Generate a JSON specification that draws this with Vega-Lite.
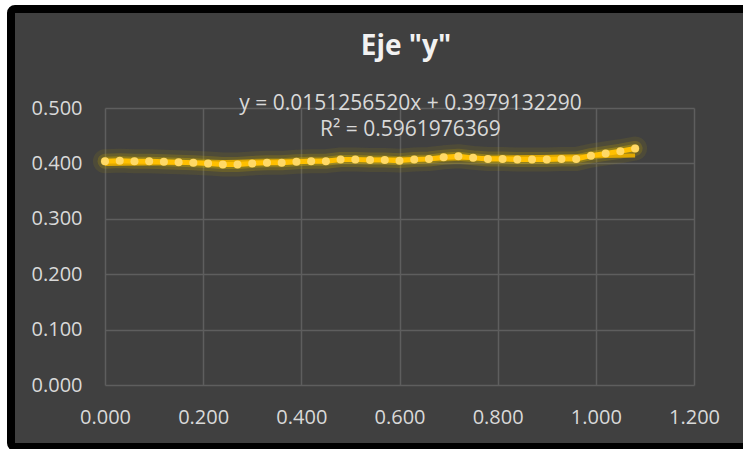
{
  "$schema": "https://vega.github.io/schema/vega-lite/v6.json",
  "autosize": {"type": "none"},
  "padding": {"left": 11, "top": 9, "right": -4, "bottom": 2},
  "width": 736,
  "height": 438,
  "background": "#ffffff",
  "config": {
    "view": {"fill": "#404040", "stroke": "#000000", "strokeWidth": 8, "cornerRadius": 4},
    "font": "Open Sans"
  },
  "title": {
    "text": "Eje \"y\"",
    "font": "Open Sans",
    "fontSize": 28,
    "fontWeight": "bold",
    "color": "#f2f2f2",
    "anchor": "middle",
    "frame": "group",
    "baseline": "top",
    "offset": -52,
    "dx": 27
  },
  "data": {
    "values": [
      {"x": 0.00, "y": 0.404},
      {"x": 0.03, "y": 0.405},
      {"x": 0.06, "y": 0.404},
      {"x": 0.09, "y": 0.404},
      {"x": 0.12, "y": 0.403},
      {"x": 0.15, "y": 0.402},
      {"x": 0.18, "y": 0.401},
      {"x": 0.21, "y": 0.400},
      {"x": 0.24, "y": 0.398},
      {"x": 0.27, "y": 0.398},
      {"x": 0.30, "y": 0.400},
      {"x": 0.33, "y": 0.401},
      {"x": 0.36, "y": 0.401},
      {"x": 0.39, "y": 0.403},
      {"x": 0.42, "y": 0.404},
      {"x": 0.45, "y": 0.404},
      {"x": 0.48, "y": 0.407},
      {"x": 0.51, "y": 0.407},
      {"x": 0.54, "y": 0.406},
      {"x": 0.57, "y": 0.406},
      {"x": 0.60, "y": 0.405},
      {"x": 0.63, "y": 0.407},
      {"x": 0.66, "y": 0.408},
      {"x": 0.69, "y": 0.411},
      {"x": 0.72, "y": 0.413},
      {"x": 0.75, "y": 0.410},
      {"x": 0.78, "y": 0.408},
      {"x": 0.81, "y": 0.408},
      {"x": 0.84, "y": 0.407},
      {"x": 0.87, "y": 0.407},
      {"x": 0.90, "y": 0.407},
      {"x": 0.93, "y": 0.408},
      {"x": 0.96, "y": 0.408},
      {"x": 0.99, "y": 0.414},
      {"x": 1.02, "y": 0.418},
      {"x": 1.05, "y": 0.422},
      {"x": 1.08, "y": 0.427}
    ]
  },
  "encoding": {
    "x": {
      "field": "x",
      "type": "quantitative",
      "scale": {"domain": [0, 1.2], "range": [94, 683], "nice": false, "zero": false},
      "axis": {
        "title": null,
        "orient": "top",
        "values": [0, 0.2, 0.4, 0.6, 0.8, 1.0, 1.2],
        "format": ".3f",
        "grid": true,
        "gridColor": "#5e5e5e",
        "gridWidth": 1.5,
        "ticks": false,
        "domain": false,
        "labelFlush": false,
        "labelFont": "Open Sans",
        "labelFontSize": 20,
        "labelColor": "#d9d9d9",
        "labelBaseline": "alphabetic",
        "labelPadding": 0,
        "offset": -414
      }
    },
    "y": {
      "field": "y",
      "type": "quantitative",
      "scale": {"domain": [0, 0.5], "range": [376, 99], "nice": false, "zero": false},
      "axis": {
        "title": null,
        "values": [0, 0.1, 0.2, 0.3, 0.4, 0.5],
        "format": ".3f",
        "grid": true,
        "gridColor": "#5e5e5e",
        "gridWidth": 1.5,
        "ticks": false,
        "domain": false,
        "labelFont": "Open Sans",
        "labelFontSize": 20,
        "labelColor": "#d9d9d9",
        "labelPadding": 23,
        "offset": -94
      }
    }
  },
  "layer": [
    {"mark": {"type": "line", "color": "#b89a00", "strokeWidth": 24, "opacity": 0.12, "strokeCap": "round", "strokeJoin": "round"}},
    {"mark": {"type": "line", "color": "#c8a800", "strokeWidth": 15, "opacity": 0.22, "strokeCap": "round", "strokeJoin": "round"}},
    {"mark": {"type": "line", "color": "#d8b400", "strokeWidth": 9, "opacity": 0.35, "strokeCap": "round", "strokeJoin": "round"}},
    {
      "transform": [{"regression": "y", "on": "x", "extent": [0, 1.08]}],
      "mark": {"type": "line", "color": "#e0a800", "strokeWidth": 4}
    },
    {"mark": {"type": "line", "color": "#FFC000", "strokeWidth": 5, "strokeJoin": "round"}},
    {"mark": {"type": "circle", "color": "#FFD966", "size": 64, "opacity": 1}},
    {
      "data": {"values": [{"label": "y = 0.0151256520x + 0.3979132290", "px": 0.6224, "py": 0.5072}]},
      "mark": {"type": "text", "font": "Open Sans", "fontSize": 21, "fontWeight": 400, "color": "#d9d9d9", "align": "center", "baseline": "middle"},
      "encoding": {
        "x": {"field": "px", "type": "quantitative"},
        "y": {"field": "py", "type": "quantitative"},
        "text": {"field": "label"}
      }
    },
    {
      "data": {"values": [{"label": "R² = 0.5961976369", "px": 0.6224, "py": 0.4603}]},
      "mark": {"type": "text", "font": "Open Sans", "fontSize": 21, "fontWeight": 400, "color": "#d9d9d9", "align": "center", "baseline": "middle"},
      "encoding": {
        "x": {"field": "px", "type": "quantitative"},
        "y": {"field": "py", "type": "quantitative"},
        "text": {"field": "label"}
      }
    }
  ]
}
